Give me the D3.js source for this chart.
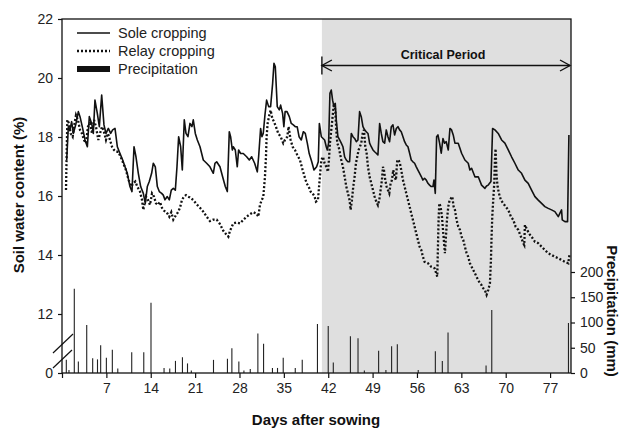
<!DOCTYPE html>
<html><head><meta charset="utf-8">
<script src="https://cdn.jsdelivr.net/npm/d3@7"></script>
<style>
html,body{margin:0;padding:0;background:#fff;}
svg text{font-family:"Liberation Sans",Arial,Helvetica,sans-serif;}
</style></head>
<body>
<svg id="chart" width="620" height="428"></svg>
<script>
// ---------- data ----------
const soleDay = [0.74,1.0,1.26,1.52,1.79,2.21,2.58,2.84,3.26,3.63,4.0,4.31,4.68,4.94,5.2,5.57,5.89,6.26,6.62,6.94,7.31,7.68,7.99,8.36,8.73,9.15,9.57,9.94,10.3,10.72,11.04,11.36,11.67,12.04,12.41,12.83,13.14,13.46,13.77,14.14,14.4,14.72,15.04,15.35,15.72,15.98,16.24,16.61,16.93,17.24,17.56,17.88,18.14,18.4,18.72,18.98,19.29,19.56,19.87,20.19,20.5,20.71,21.03,21.35,21.77,22.29,22.82,23.34,23.87,24.13,24.4,24.92,25.34,25.76,26.08,26.39,26.6,26.87,27.02,27.34,27.65,27.86,28.18,28.6,29.13,29.55,29.92,30.39,30.81,31.02,31.33,31.54,31.75,32.02,32.28,32.6,32.91,33.23,33.44,33.65,33.96,34.28,34.49,34.8,35.0,35.2,35.5,35.86,36.17,36.49,36.8,37.1,37.4,37.75,38.07,38.38,38.7,39.0,39.4,39.75,40.17,40.43,40.6,40.91,41.43,41.69,41.85,42.06,42.27,42.48,42.69,42.9,43.11,43.27,43.53,43.8,44.06,44.32,44.59,44.85,45.11,45.37,45.64,45.9,46.16,46.43,46.69,46.95,47.21,47.48,47.74,48.0,48.27,48.53,48.79,49.06,49.32,49.58,49.84,50.11,50.37,50.63,50.9,51.16,51.42,51.68,51.95,52.21,52.47,52.74,53.0,53.26,53.52,53.79,54.05,54.31,54.58,54.84,55.1,55.36,55.63,55.89,56.15,56.42,56.68,56.94,57.2,57.47,57.73,57.99,58.25,58.52,58.68,58.89,59.1,59.31,59.57,59.83,60.1,60.36,60.62,60.94,61.2,61.46,61.72,61.99,62.51,63.04,63.56,64.09,64.35,64.62,65.14,65.67,66.19,66.72,66.98,67.24,67.67,67.93,68.3,68.82,69.35,69.87,70.4,70.92,71.45,71.98,72.5,73.03,73.55,74.08,74.61,75.13,75.66,76.18,76.71,77.23,77.76,78.29,78.81,78.92,79.34,79.76,79.97];
const soleVal = [17.22,18.35,18.24,18.52,18.12,18.46,18.86,18.69,18.29,17.9,17.67,18.69,18.46,18.12,19.25,18.8,18.35,19.42,18.41,18.12,18.29,18.12,18.24,18.29,17.67,17.44,17.22,16.99,16.77,16.32,16.15,17.67,17.33,16.77,16.32,16.09,15.75,16.32,16.49,16.77,17.11,16.99,16.32,16.15,16.09,16.03,15.87,15.98,15.87,16.2,16.26,16.2,16.99,18.01,17.67,16.88,18.58,18.12,18.01,18.46,18.35,18.58,18.12,17.9,17.67,17.22,17.11,16.99,16.77,17.11,17.16,16.99,16.65,16.32,16.15,18.18,18.01,17.56,17.67,17.56,16.99,17.56,17.44,17.44,17.33,17.22,17.33,17.11,16.82,17.33,18.29,18.01,18.12,18.75,19.25,19.03,19.03,19.82,20.5,20.38,19.03,18.92,19.08,18.8,18.35,18.86,18.86,18.69,18.46,18.41,18.35,18.35,18.01,17.9,18.18,18.12,17.79,17.44,17.16,16.88,16.99,17.16,18.46,18.01,17.9,17.67,17.56,17.79,19.48,19.59,19.25,19.03,19.14,18.58,18.01,17.9,17.79,17.67,17.33,17.22,17.16,17.16,18.12,18.01,17.95,17.84,17.9,18.86,18.69,18.35,18.24,18.18,18.12,17.79,17.67,17.56,17.5,17.45,17.39,18.46,18.12,17.84,17.79,18.24,18.01,17.84,18.35,18.41,18.07,18.29,18.35,18.24,18.18,18.01,17.84,17.73,17.67,17.45,17.22,17.16,17.11,16.99,16.88,16.77,16.66,16.54,16.6,16.54,16.43,16.37,16.32,16.32,16.54,16.09,18.01,18.07,17.79,17.45,17.95,17.79,17.84,17.56,18.29,18.24,18.07,17.79,17.79,17.45,17.22,17.11,16.88,16.94,16.65,16.65,16.37,16.26,16.34,16.37,16.49,18.29,18.24,18.12,17.9,17.79,17.56,17.33,17.11,16.88,16.77,16.54,16.43,16.2,15.98,15.86,15.75,15.64,15.58,15.53,15.47,15.3,15.53,15.19,15.13,15.13,18.07];

const relayDay = [0.63,0.84,1.1,1.37,1.68,1.89,2.21,2.52,2.84,3.15,3.47,3.78,4.1,4.42,4.73,5.05,5.36,5.73,6.0,6.31,6.62,6.94,7.25,7.57,7.89,8.2,8.52,8.88,9.25,9.67,10.09,10.51,10.93,11.25,11.57,11.88,12.3,12.62,12.83,13.04,13.25,13.56,13.88,14.2,14.51,14.83,15.14,15.46,15.77,16.09,16.51,16.93,17.24,17.56,17.98,18.3,18.61,18.93,19.24,19.56,19.87,20.19,20.72,21.24,21.77,22.29,22.82,23.34,23.87,24.4,24.92,25.45,25.97,26.24,26.5,27.02,27.55,28.08,28.6,29.13,29.65,30.18,30.7,30.97,31.23,31.49,31.76,32.02,32.18,32.28,32.44,32.65,32.91,33.18,33.44,33.75,34.12,34.49,34.91,35.17,35.54,35.75,36.07,36.38,36.75,37.12,37.54,37.96,38.28,38.59,38.91,39.22,39.54,39.85,40.06,40.38,40.64,40.91,41.17,41.43,41.69,41.96,42.11,42.27,42.48,42.69,42.9,43.11,43.27,43.43,43.64,43.85,44.06,44.32,44.59,44.85,45.11,45.37,45.53,45.74,45.95,46.16,46.37,46.58,46.79,47.0,47.21,47.43,47.64,47.85,48.06,48.27,48.53,48.79,49.06,49.32,49.58,49.84,50.05,50.26,50.47,50.63,50.79,51.0,51.21,51.42,51.63,51.84,52.05,52.26,52.47,52.68,52.89,53.1,53.31,53.52,53.79,54.05,54.31,54.58,54.84,55.1,55.36,55.63,55.89,56.15,56.42,56.68,56.94,57.2,57.73,58.25,58.78,59.2,59.31,59.41,59.52,59.73,59.94,60.2,60.41,60.57,60.73,60.94,61.15,61.36,61.57,61.78,61.99,62.25,62.51,62.78,63.04,63.3,63.56,63.83,64.09,64.35,64.62,64.88,65.14,65.4,65.67,65.93,66.19,66.46,66.72,66.98,67.24,67.51,67.67,67.77,67.88,68.03,68.19,68.3,68.4,68.56,68.72,68.93,69.24,69.61,69.98,70.4,70.82,71.19,71.56,71.98,72.4,72.77,72.92,73.03,73.29,73.66,74.08,74.61,75.13,75.66,76.18,76.71,77.23,77.76,78.29,78.81,79.34,79.87,80.1];
const relayVal = [16.2,18.58,18.46,18.12,18.01,18.35,18.74,18.58,18.24,18.12,17.9,17.79,18.35,18.46,18.12,18.58,18.35,17.9,18.12,18.35,18.18,17.9,18.12,17.9,17.67,17.56,17.5,17.5,17.33,17.11,16.88,16.54,16.32,16.43,16.49,16.32,16.15,15.87,15.53,15.75,15.98,15.87,15.7,16.09,15.98,15.75,15.7,15.8,15.6,15.5,15.45,15.3,15.45,15.2,15.35,15.45,15.6,15.87,15.98,16.03,15.98,15.95,15.86,15.72,15.6,15.47,15.3,15.15,15.2,15.2,15.05,14.82,14.68,14.62,14.82,15.07,15.1,15.07,15.19,15.3,15.38,15.45,15.4,15.3,15.7,15.85,15.98,16.65,17.33,18.01,18.46,18.69,18.91,18.63,18.52,18.35,18.12,18.01,17.79,17.9,18.01,18.35,17.9,17.67,17.56,17.39,17.22,16.88,16.65,16.43,16.32,16.15,16.09,15.98,15.81,15.86,16.54,17.22,17.33,17.11,16.99,16.82,17.22,17.79,18.24,18.69,19.14,18.92,18.24,17.79,17.67,17.45,17.22,16.99,16.65,16.32,16.09,15.86,15.53,15.86,16.32,16.65,17.11,17.33,17.56,17.67,17.79,18.12,18.24,17.67,17.45,16.99,16.65,16.43,16.2,15.98,15.81,15.69,15.86,16.2,16.54,16.99,16.88,16.54,16.32,16.2,16.09,16.43,16.54,16.88,16.65,16.54,17.22,17.22,17.11,16.88,16.54,16.32,16.09,15.86,15.64,15.41,15.19,14.96,14.73,14.51,14.28,14.17,13.94,13.77,13.72,13.6,13.55,13.27,14.28,15.19,15.75,15.64,15.3,14.6,14.06,14.62,15.19,15.64,15.86,15.92,15.98,15.64,15.53,15.19,14.96,14.85,14.62,14.51,14.28,14.06,13.94,13.72,13.6,13.49,13.38,13.26,13.15,13.04,12.98,12.87,12.81,12.65,12.81,13.04,13.83,14.62,15.3,15.86,16.43,17.22,17.6,16.66,16.32,16.09,15.86,15.75,15.64,15.53,15.3,15.19,14.96,14.85,14.62,14.4,14.34,15.02,14.9,14.73,14.62,14.45,14.4,14.28,14.17,14.06,14.0,13.94,13.89,13.83,13.77,13.72,14.06];

const precipDay = [0.68,1.1,1.94,2.58,3.9,4.84,5.6,6.1,7.0,7.94,8.8,11.0,12.9,14.04,16.1,17.0,17.9,19.0,19.8,20.4,23.9,26.1,26.8,27.9,28.7,29.7,30.9,31.8,33.2,34.0,34.9,36.8,37.9,40.3,42.0,42.8,45.5,46.7,47.7,49.95,51.1,52.0,52.9,56.2,58.9,60.0,60.9,66.9,67.8,79.9];
const precipMm  = [26,6,167,23,95,29,27,55,30,46,9,41,41,139,10,9,24,31,19,5,26,28,49,23,5,8,78,58,10,10,30,10,26,97,93,21,73,69,5,44,6,53,57,6,43,24,80,15,125,99];

const xTicks = [7,14,21,28,35,42,49,56,63,70,77];
const yTicks = [10,12,14,16,18,20,22];
const yTickLabels = ["0","12","14","16","18","20","22"];
const y2Ticks = [0,50,100,150,200];
const criticalStart = 41;

// ---------- layout ----------
const L = 62, R = 571, T = 19, B = 373;
const svg = d3.select("#chart");
const x = d3.scaleLinear().domain([0, 80.3]).range([L, R]);
const y = d3.scaleLinear().domain([10, 22]).range([B, T]);
const y2 = d3.scaleLinear().domain([0, 701]).range([B, T]);

// critical period shading
svg.append("rect")
  .attr("x", x(criticalStart)).attr("y", T)
  .attr("width", R - x(criticalStart)).attr("height", B - T)
  .attr("fill", "#dfdfdf");

// precipitation bars
svg.append("g").selectAll("line").data(precipDay).join("line")
  .attr("x1", d => x(d)).attr("x2", d => x(d))
  .attr("y1", y2(0)).attr("y2", (d, i) => y2(precipMm[i]))
  .attr("stroke", "#222").attr("stroke-width", 1.1);

// lines
const sole = soleDay.map((d, i) => [d, soleVal[i]]);
const relay = relayDay.map((d, i) => [d, relayVal[i]]);
const line = d3.line().x(d => x(d[0])).y(d => y(d[1]));
svg.append("path").datum(relay).attr("d", line)
  .attr("fill", "none").attr("stroke", "#111").attr("stroke-width", 2.3)
  .attr("stroke-dasharray", "2,2");
svg.append("path").datum(sole).attr("d", line)
  .attr("fill", "none").attr("stroke", "#111").attr("stroke-width", 1.6)
  .attr("stroke-linejoin", "round");

// frame
svg.append("rect").attr("x", L).attr("y", T).attr("width", R - L).attr("height", B - T)
  .attr("fill", "none").attr("stroke", "#111").attr("stroke-width", 1.3);

// axes
const fontTick = "14px";
const gx = svg.append("g").attr("transform", `translate(0,${B})`)
  .call(d3.axisBottom(x).tickValues([0].concat(xTicks)).tickSize(5).tickPadding(5)
    .tickFormat(d => d === 0 ? "" : d));
const gy = svg.append("g").attr("transform", `translate(${L},0)`)
  .call(d3.axisLeft(y).tickValues(yTicks).tickSize(4).tickPadding(5)
    .tickFormat((d, i) => yTickLabels[i]));
const gy2 = svg.append("g").attr("transform", `translate(${R},0)`)
  .call(d3.axisRight(y2).tickValues(y2Ticks).tickSize(4).tickPadding(5));
[gx, gy, gy2].forEach(g => {
  g.select(".domain").remove();
  g.selectAll("line").attr("stroke", "#111").attr("stroke-width", 1.2);
  g.selectAll("text").attr("font-size", fontTick).attr("fill", "#222")
    .style("font-family", "'Liberation Sans', Arial, sans-serif");
});

// axis break marks
const brk = svg.append("g").attr("stroke", "#111").attr("stroke-width", 1.2);
brk.append("line").attr("x1", 53).attr("y1", 353).attr("x2", 73).attr("y2", 334);
brk.append("line").attr("x1", 53).attr("y1", 368).attr("x2", 72).attr("y2", 350);

// titles
svg.append("text").attr("x", 316).attr("y", 425).attr("text-anchor", "middle")
  .attr("font-size", "15px").attr("font-weight", "bold").attr("fill", "#111")
  .text("Days after sowing");
svg.append("text").attr("transform", "translate(24,195) rotate(-90)").attr("text-anchor", "middle")
  .attr("font-size", "15px").attr("font-weight", "bold").attr("fill", "#111")
  .text("Soil water content (%)");
svg.append("text").attr("transform", "translate(607,311) rotate(90)").attr("text-anchor", "middle")
  .attr("font-size", "15px").attr("font-weight", "bold").attr("fill", "#111")
  .text("Precipitation (mm)");

// critical period arrow
const ay = 65.5, ax1 = x(criticalStart), ax2 = R - 1;
const arr = svg.append("g").attr("stroke", "#111").attr("stroke-width", 1.4).attr("fill", "none");
arr.append("line").attr("x1", ax1).attr("x2", ax2).attr("y1", ay).attr("y2", ay);
arr.append("line").attr("x1", ax1).attr("x2", ax1).attr("y1", ay - 9).attr("y2", ay + 9);
arr.append("path").attr("d", `M${ax1 + 10},${ay - 5.5}L${ax1},${ay}L${ax1 + 10},${ay + 5.5}`);
arr.append("path").attr("d", `M${ax2 - 10},${ay - 5.5}L${ax2},${ay}L${ax2 - 10},${ay + 5.5}`);
svg.append("text").attr("x", 443).attr("y", 58.5).attr("text-anchor", "middle")
  .attr("font-size", "12.5px").attr("font-weight", "bold").attr("fill", "#111")
  .text("Critical Period");

// legend
const leg = svg.append("g");
const legItems = ["Sole cropping", "Relay cropping", "Precipitation"];
legItems.forEach((t, i) => {
  const cy = 33 + i * 18;
  if (i === 0) leg.append("line").attr("x1", 77).attr("x2", 110).attr("y1", cy).attr("y2", cy)
    .attr("stroke", "#111").attr("stroke-width", 1.6);
  if (i === 1) leg.append("line").attr("x1", 77).attr("x2", 110).attr("y1", cy).attr("y2", cy)
    .attr("stroke", "#111").attr("stroke-width", 2.3).attr("stroke-dasharray", "2,2");
  if (i === 2) leg.append("rect").attr("x", 77).attr("y", cy - 3).attr("width", 33).attr("height", 6)
    .attr("fill", "#111");
  leg.append("text").attr("x", 118).attr("y", cy + 5).attr("font-size", "14.5px").attr("fill", "#222")
    .text(t);
});
</script>
</body></html>
